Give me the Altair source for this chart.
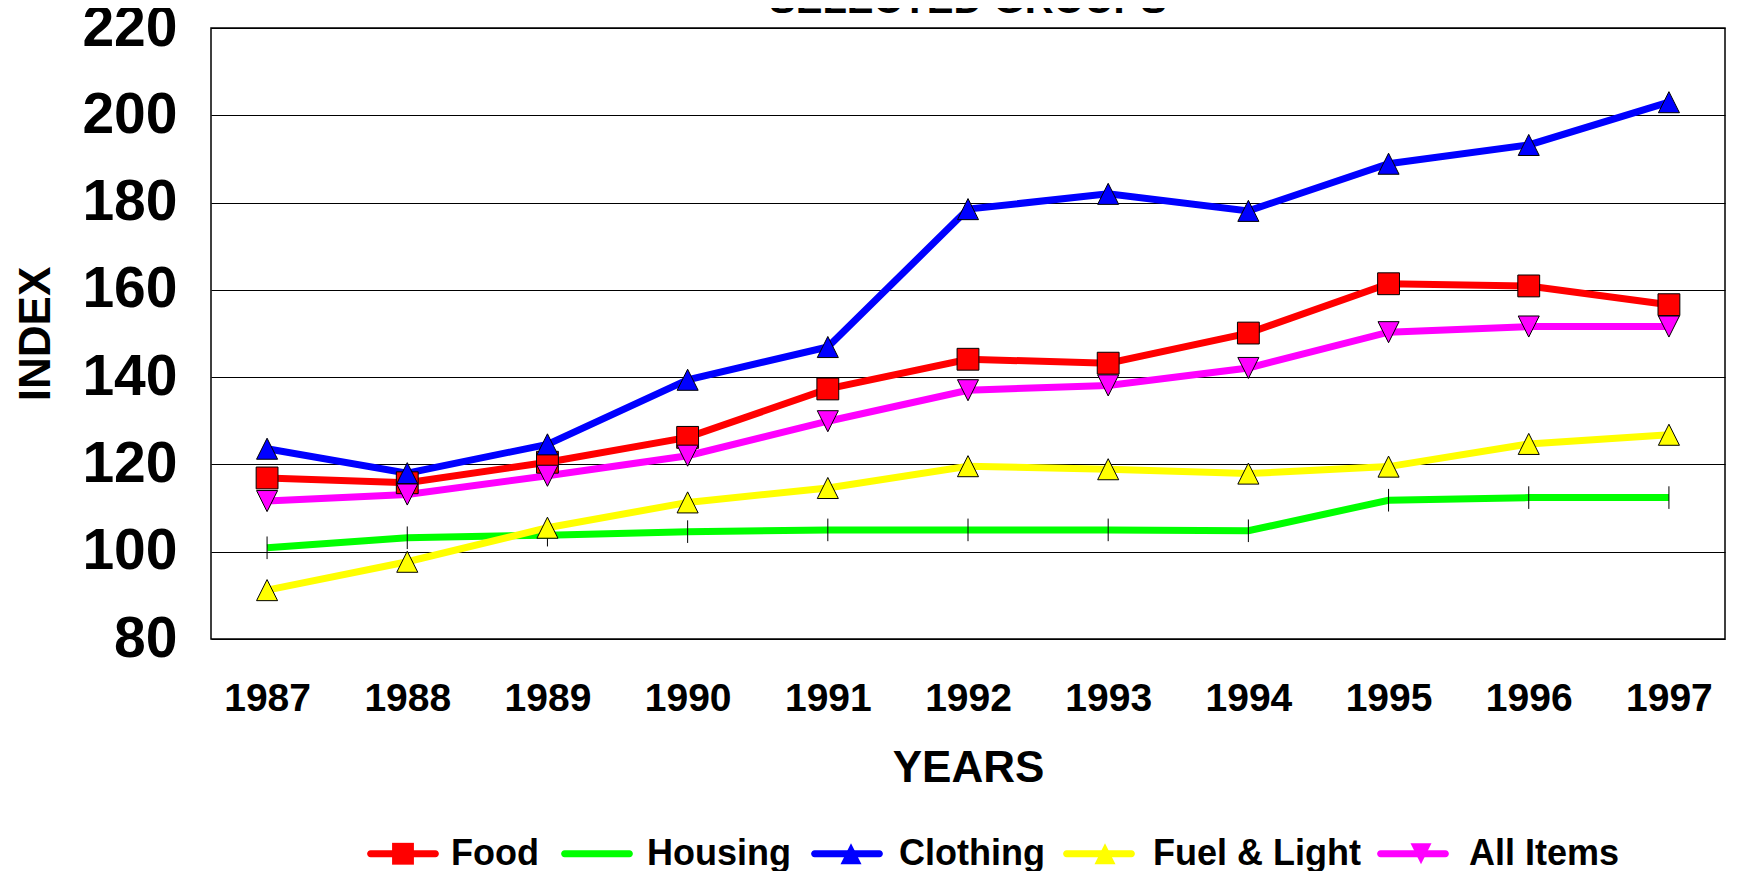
import altair as alt
import pandas as pd

years = [1987, 1988, 1989, 1990, 1991, 1992, 1993, 1994, 1995, 1996, 1997]
series_names = ["Food", "Housing", "Clothing", "Fuel & Light", "All Items"]
food = [116.9, 115.8, 120.5, 126.2, 137.3, 144.1, 143.2, 150.1, 161.4, 160.9, 156.6]
housing = [100.9, 103.2, 103.8, 104.6, 105.0, 105.0, 105.0, 104.8, 111.8, 112.4, 112.4]
clothing = [123.6, 118.0, 124.6, 139.4, 146.9, 178.5, 182.0, 178.1, 188.9, 193.2, 203.0]
fuel_light = [91.2, 97.7, 105.5, 111.3, 114.6, 119.6, 118.9, 117.9, 119.5, 124.7, 126.8]
all_items = [111.6, 113.1, 117.4, 122.0, 129.9, 137.0, 138.1, 142.1, 150.3, 151.6, 151.6]
y_ticks = [80, 100, 120, 140, 160, 180, 200, 220]

colors = ["#FF0000", "#00FF00", "#0000FF", "#FFFF00", "#FF00FF"]
# unit-space symbol paths; "M-1,0M1,0" only widens the bounds so both legends lay out alike
marker_paths = [
    "M-1,0M1,0M-0.28,-0.28H0.28V0.28H-0.28Z",
    "M-1,0M1,0M0,-0.29V0.29",
    "M-1,0M1,0M0,-0.27L0.27,0.27L-0.27,0.27Z",
    "M-1,0M1,0M0,-0.27L0.27,0.27L-0.27,0.27Z",
    "M-1,0M1,0M0,0.27L0.27,-0.27L-0.27,-0.27Z",
]
legend_bar = "M-1,0M1,0M-0.83,-0.09H0.83A0.09,0.09 0 0 1 0.83,0.09H-0.83A0.09,0.09 0 0 1 -0.83,-0.09Z"

rows = []
for name, vals in zip(series_names, [food, housing, clothing, fuel_light, all_items]):
    for yr, v in zip(years, vals):
        rows.append({"year": str(yr), "series": name, "series2": name, "value": v})
df = pd.DataFrame(rows)

FONT = "Liberation Sans"

x_enc = alt.X(
    "year:O",
    scale=alt.Scale(type="point", padding=0.4),
    axis=alt.Axis(
        title="YEARS", labelAngle=0, labelFontSize=39, labelFontWeight="bold",
        labelPadding=40, ticks=False, tickSize=0, domain=False, grid=False,
        titleFontSize=44, titleFontWeight="bold", titlePadding=28,
        labelColor="black", titleColor="black", labelFont=FONT, titleFont=FONT,
    ),
)
y_enc = alt.Y(
    "value:Q",
    scale=alt.Scale(domain=[80, 220], nice=False, zero=False),
    axis=alt.Axis(
        title="INDEX", values=y_ticks, labelFontSize=57, labelFontWeight="bold",
        labelPadding=34, ticks=False, tickSize=0, domain=False, grid=True,
        gridColor="black", gridWidth=1, gridOpacity=1,
        titleFontSize=44, titleFontWeight="bold", titlePadding=23,
        labelColor="black", titleColor="black", labelFont=FONT, titleFont=FONT,
    ),
)

LX = 152.5
LY = 786
SYM = 6084

common = dict(
    orient="none", legendX=LX, legendY=LY, direction="horizontal", title=None,
    symbolSize=SYM, symbolStrokeWidth=1, symbolOpacity=1,
    labelFontSize=36, labelFontWeight="bold", labelFont=FONT, labelColor="black",
    labelOffset=8.5, columnPadding=18, labelLimit=600, padding=0,
)
bar_legend = alt.Legend(symbolType=legend_bar, labelOpacity=0, zindex=0, **common)
marker_legend = alt.Legend(symbolStrokeColor="black", zindex=1, **common)

lines = alt.Chart(df).mark_line(strokeWidth=7).encode(
    x=x_enc,
    y=y_enc,
    stroke=alt.Stroke("series:N", sort=series_names, scale=alt.Scale(range=colors), legend=None),
)

legend_bars = alt.Chart(df).mark_point(
    filled=True, size=SYM, opacity=0, shape=legend_bar
).encode(
    x=x_enc,
    y=y_enc,
    color=alt.Color("series:N", sort=series_names, scale=alt.Scale(range=colors), legend=bar_legend),
)

points = alt.Chart(df).mark_point(
    filled=True, size=SYM, stroke="black", strokeWidth=1, opacity=1
).encode(
    x=x_enc,
    y=y_enc,
    fill=alt.Fill("series2:N", scale=alt.Scale(domain=series_names, range=colors), legend=marker_legend),
    shape=alt.Shape("series2:N", scale=alt.Scale(domain=series_names, range=marker_paths), legend=marker_legend),
)

chart = alt.layer(lines, legend_bars, points).properties(
    width=1514,
    height=611,
    autosize=alt.AutoSizeParams(type="none"),
    padding={"left": 203, "top": 20, "right": 4, "bottom": 232},
    title=alt.TitleParams(
        "SELECTED GROUPS", fontSize=40, fontWeight="bold", font=FONT,
        anchor="middle", offset=-22, color="black",
    ),
).configure_view(stroke="black", strokeWidth=1.5)

chart.save("out.html", embed_options={"renderer": "svg", "actions": False})
